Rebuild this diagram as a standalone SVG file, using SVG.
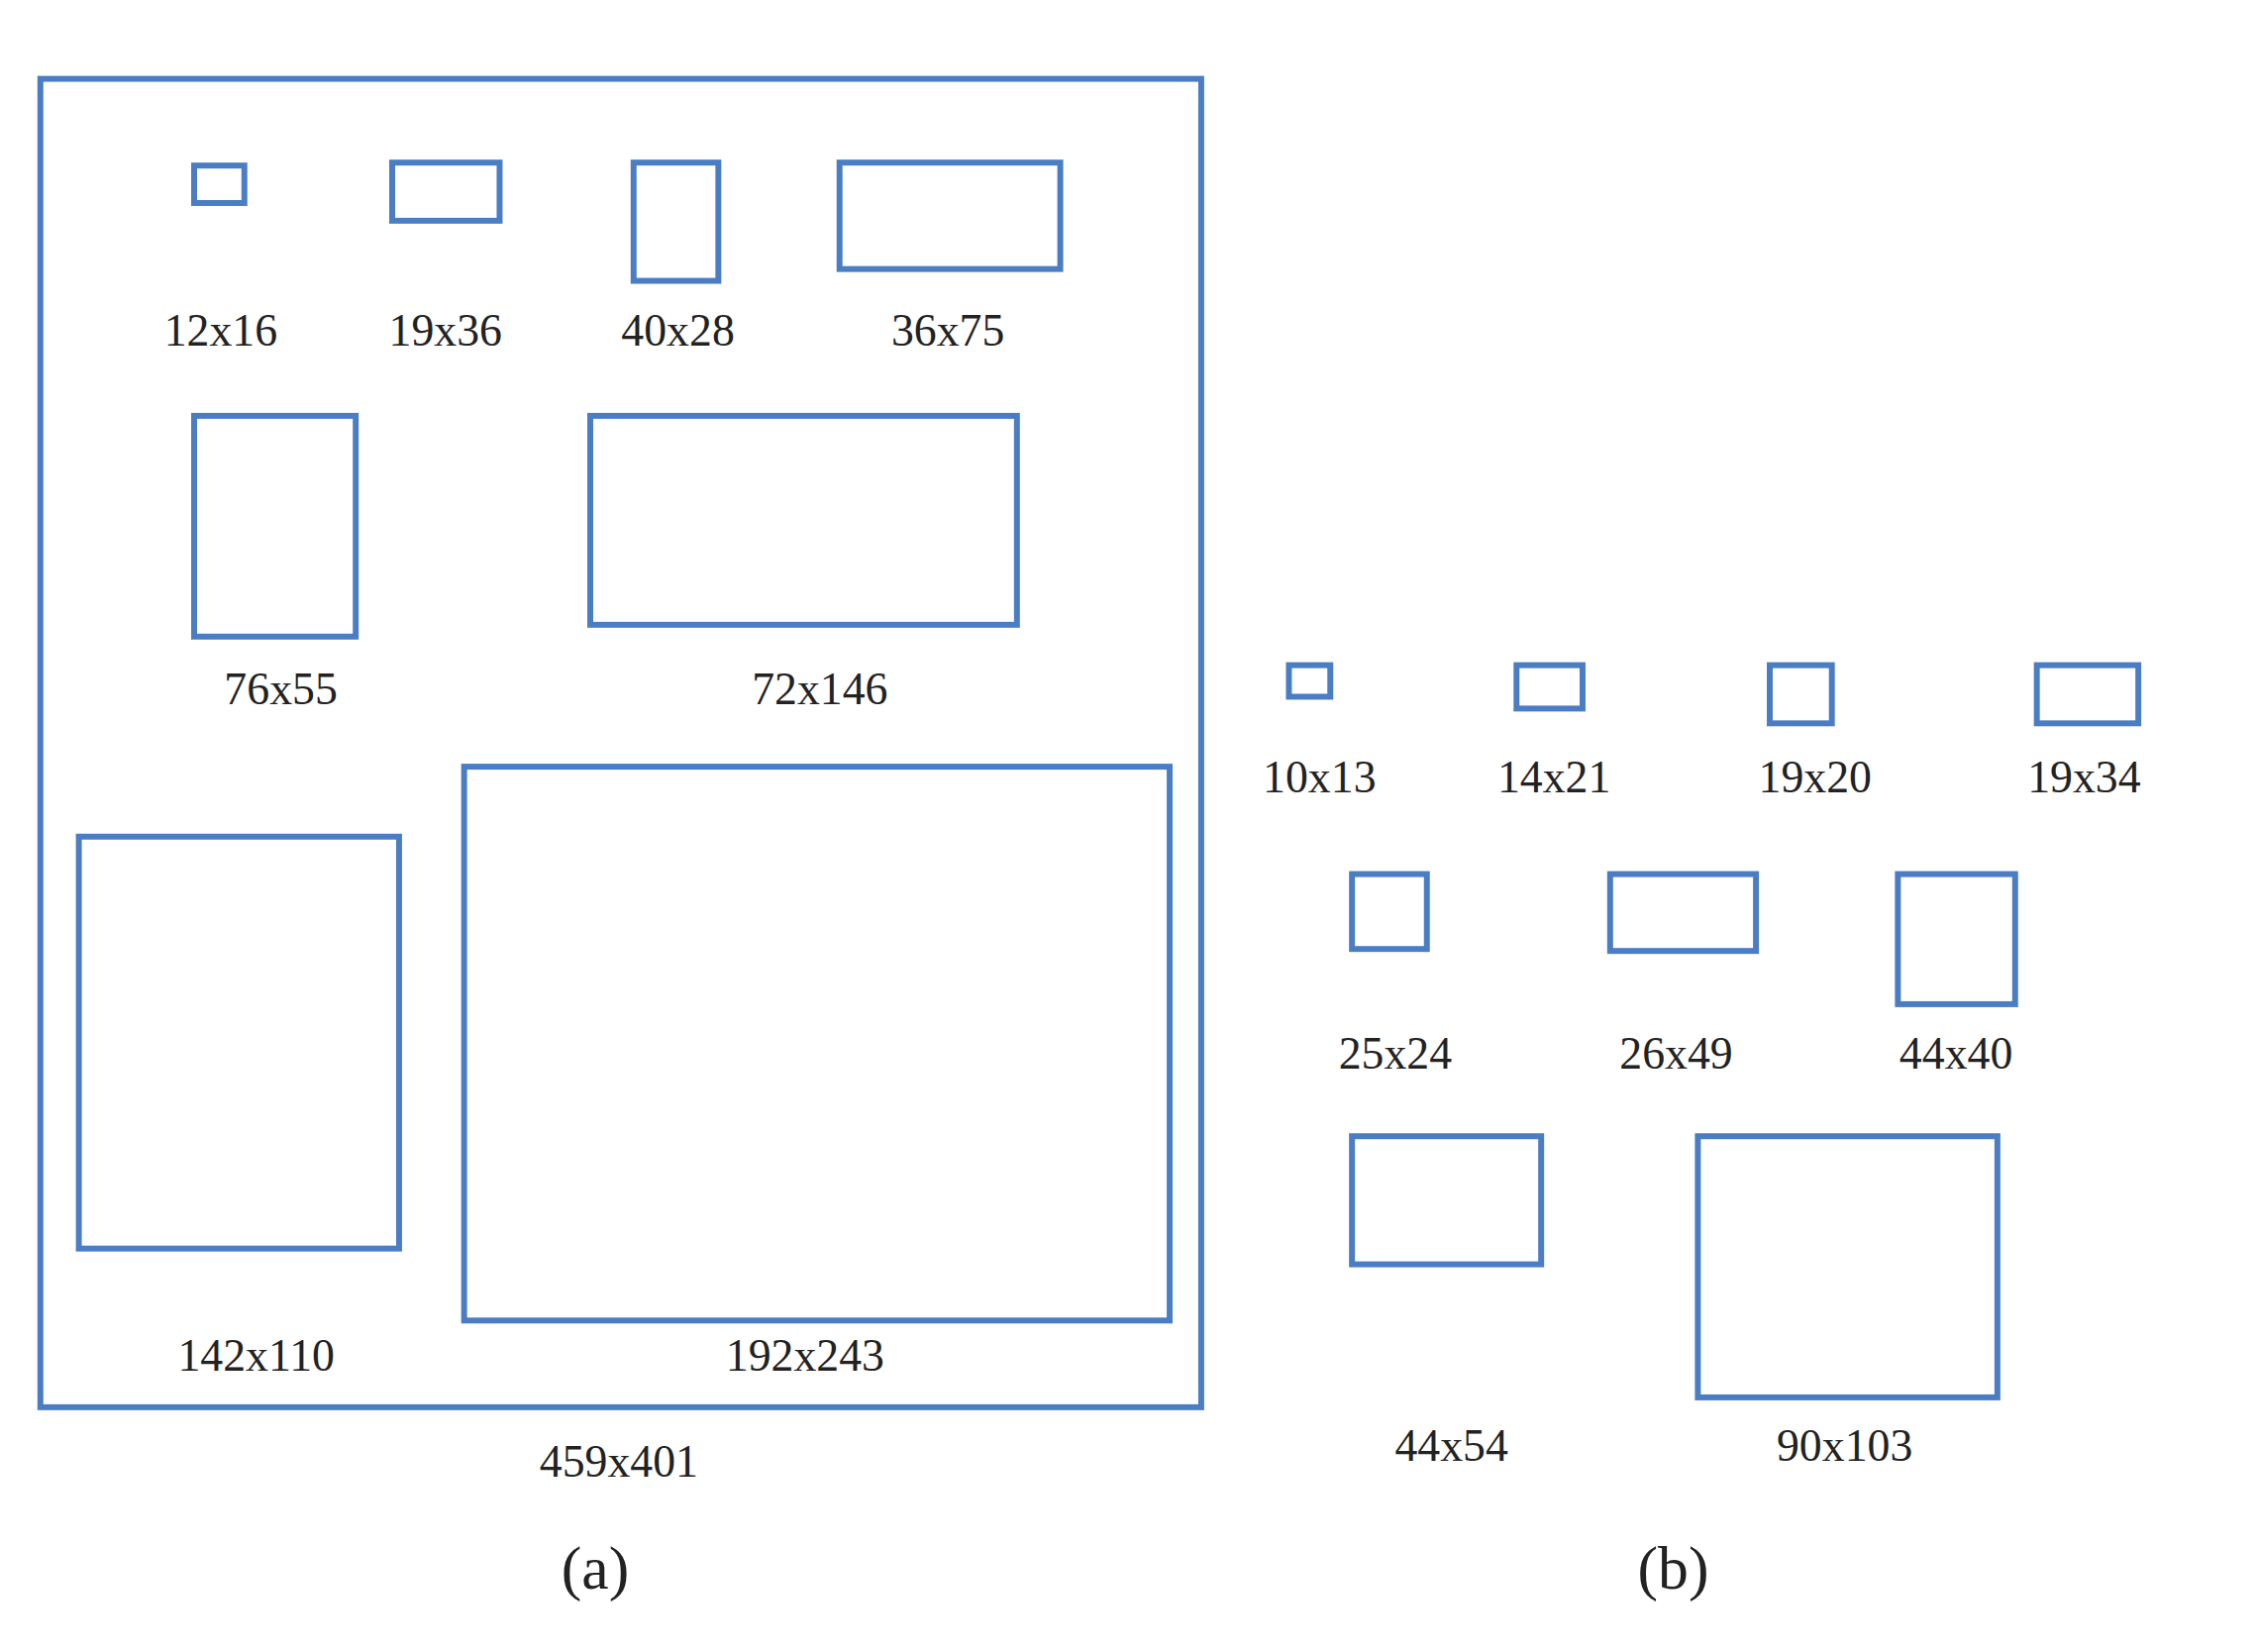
<svg xmlns="http://www.w3.org/2000/svg" width="2280" height="1668" viewBox="0 0 2280 1668">
<style>
rect.b{fill:none;stroke:#4a7dc3;stroke-width:6}
text{font-family:"Liberation Serif",serif;font-size:46px;fill:#222;text-anchor:middle}
text.p{font-size:62px}
</style>
<rect width="2280" height="1668" fill="#fff"/>
<g transform="scale(0.995)">
<g id="panel-a">
<rect class="b" x="41" y="80" width="1178" height="1348"/>
<text x="628" y="1498">459x401</text>
<text class="p" x="604" y="1612">(a)</text>
</g>
<g id="a1"><rect class="b" x="197" y="168" width="51" height="38"/><text x="224" y="351">12x16</text></g>
<g id="a2"><rect class="b" x="398" y="165" width="109" height="59"/><text x="452" y="351">19x36</text></g>
<g id="a3"><rect class="b" x="643" y="165" width="86" height="120"/><text x="688" y="351">40x28</text></g>
<g id="a4"><rect class="b" x="852" y="165" width="224" height="108"/><text x="962" y="351">36x75</text></g>
<g id="a5"><rect class="b" x="197" y="422" width="164" height="224"/><text x="285" y="715">76x55</text></g>
<g id="a6"><rect class="b" x="599" y="422" width="433" height="212"/><text x="832" y="715">72x146</text></g>
<g id="a7"><rect class="b" x="80" y="849" width="325" height="418"/><text x="260" y="1391">142x110</text></g>
<g id="a8"><rect class="b" x="471" y="778" width="716" height="562"/><text x="817" y="1391">192x243</text></g>
<g id="panel-b"><text class="p" x="1698" y="1612">(b)</text></g>
<g id="b1"><rect class="b" x="1308" y="675" width="42" height="32"/><text x="1339" y="804">10x13</text></g>
<g id="b2"><rect class="b" x="1539" y="675" width="67" height="44"/><text x="1577" y="804">14x21</text></g>
<g id="b3"><rect class="b" x="1796" y="675" width="63" height="59"/><text x="1842" y="804">19x20</text></g>
<g id="b4"><rect class="b" x="2067" y="675" width="103" height="59"/><text x="2115" y="804">19x34</text></g>
<g id="b5"><rect class="b" x="1372" y="887" width="76" height="76"/><text x="1416" y="1084">25x24</text></g>
<g id="b6"><rect class="b" x="1634" y="887" width="148" height="78"/><text x="1701" y="1084">26x49</text></g>
<g id="b7"><rect class="b" x="1926" y="887" width="119" height="132"/><text x="1985" y="1084">44x40</text></g>
<g id="b8"><rect class="b" x="1372" y="1153" width="192" height="130"/><text x="1473" y="1482">44x54</text></g>
<g id="b9"><rect class="b" x="1723" y="1153" width="304" height="265"/><text x="1872" y="1482">90x103</text></g>
</g>
<g id="connectors"/>
</svg>
